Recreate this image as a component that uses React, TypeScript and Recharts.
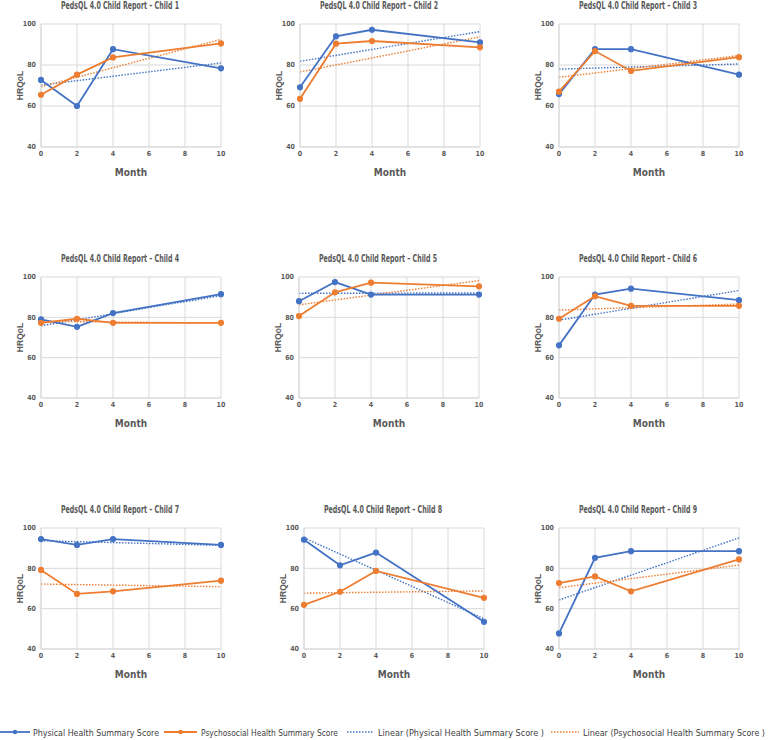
import React from 'react';
import { LineChart, Line, XAxis, YAxis, CartesianGrid } from 'recharts';

const months = [0, 2, 4, 10];
const monthTicks = [0, 2, 4, 6, 8, 10];
const hrqolTicks = [40, 60, 80, 100];
const childTitles = [
  'PedsQL 4.0 Child Report – Child 1',
  'PedsQL 4.0 Child Report – Child 2',
  'PedsQL 4.0 Child Report – Child 3',
  'PedsQL 4.0 Child Report – Child 4',
  'PedsQL 4.0 Child Report – Child 5',
  'PedsQL 4.0 Child Report – Child 6',
  'PedsQL 4.0 Child Report – Child 7',
  'PedsQL 4.0 Child Report – Child 8',
  'PedsQL 4.0 Child Report – Child 9',
];
const physicalScores = [
  [72.7, 60.0, 87.7, 78.4],
  [69.1, 94.0, 97.2, 91.0],
  [65.8, 87.7, 87.7, 75.3],
  [79.0, 75.3, 82.1, 91.5],
  [88.0, 97.5, 91.3, 91.3],
  [66.1, 91.3, 94.2, 88.5],
  [94.5, 91.6, 94.5, 91.6],
  [94.2, 81.5, 87.8, 53.5],
  [47.7, 85.2, 88.5, 88.5],
];
const psychosocialScores = [
  [65.5, 75.3, 83.7, 90.5],
  [63.5, 90.4, 91.7, 88.6],
  [67.0, 86.8, 77.1, 83.8],
  [77.3, 79.3, 77.3, 77.3],
  [80.6, 92.4, 97.2, 95.4],
  [79.3, 90.5, 85.7, 85.7],
  [79.2, 67.3, 68.6, 73.9],
  [61.9, 68.4, 78.7, 65.4],
  [72.7, 76.0, 68.6, 84.4],
];
// linear trend values at month 0 and month 10
const physicalTrend = [
  [70.2, 81.0],
  [81.8, 96.3],
  [78.0, 80.5],
  [75.8, 90.8],
  [91.9, 92.1],
  [78.6, 93.3],
  [93.7, 91.4],
  [95.1, 55.0],
  [64.3, 95.1],
];
const psychosocialTrend = [
  [69.4, 92.5],
  [76.6, 93.7],
  [74.0, 84.6],
  [78.0, 77.2],
  [86.2, 98.2],
  [83.6, 86.6],
  [72.2, 70.9],
  [67.7, 68.8],
  [70.4, 81.6],
];
const seriesNames = [
  'Physical Health Summary Score',
  'Psychosocial Health Summary Score',
  'Linear (Physical Health Summary Score )',
  'Linear (Psychosocial Health Summary Score )',
];

const BLUE = '#4472C4';
const ORANGE = '#ED7D31';
const GRID = '#d9d9d9';
const TEXT = '#595959';
const NARROW = "'Liberation Sans Narrow', 'DejaVu Sans Condensed', 'Arial Narrow', sans-serif";

const plotLefts = [41, 300, 559, 41, 299, 559, 41, 304, 559];
const plotTops = [24, 24, 24, 277, 277, 277, 528, 528, 528];
const plotHeights = [123, 123, 123, 121, 121, 121, 121, 121, 121];

function buildRows(i: number) {
  return months.map((m, k) => ({
    month: m,
    physical: physicalScores[i][k],
    psychosocial: psychosocialScores[i][k],
    physicalLinear: k === 0 ? physicalTrend[i][0] : k === months.length - 1 ? physicalTrend[i][1] : null,
    psychosocialLinear: k === 0 ? psychosocialTrend[i][0] : k === months.length - 1 ? psychosocialTrend[i][1] : null,
  }));
}

function Panel({ i }: { i: number }) {
  const left = plotLefts[i] - 41;
  const top = plotTops[i] - 24;
  const h = 24 + plotHeights[i] + 43;
  const data = buildRows(i);
  return (
    <div style={{ position: 'absolute', left, top, width: 260, height: h }}>
      <svg style={{ position: 'absolute', left: 0, top: 0, overflow: 'visible' }} width={260} height={20}>
        <text x={120} y={9} textAnchor="middle" fill={TEXT} fontFamily={NARROW} fontSize={11} fontWeight={600}
          textLength={118} lengthAdjust="spacingAndGlyphs">{childTitles[i]}</text>
      </svg>
      <div style={{ position: 'absolute', left: 0, top: 0 }}>
        <LineChart width={260} height={h} data={data} margin={{ top: 24, right: 39, bottom: 13, left: 11 }}>
          <CartesianGrid stroke={GRID} strokeWidth={1} vertical={true} horizontal={true} />
          <XAxis
            dataKey="month"
            type="number"
            domain={[0, 10]}
            ticks={monthTicks}
            height={30}
            axisLine={{ stroke: GRID }}
            tickLine={false}
            tickSize={4}
            tickMargin={0}
            tick={{ fontSize: 7, fill: TEXT, fontFamily: NARROW, fontWeight: 600 }}
            label={{
              content: (p: any) => {
                const vb = p.viewBox || {};
                return (
                  <text x={vb.x + vb.width / 2} y={vb.y + 29} textAnchor="middle" fill={TEXT}
                    fontFamily={NARROW} fontSize={10} fontWeight={600}>Month</text>
                );
              },
            }}
          />
          <YAxis
            type="number"
            domain={[40, 100]}
            ticks={hrqolTicks}
            width={30}
            axisLine={{ stroke: GRID }}
            tickLine={false}
            tickSize={5}
            tickMargin={0}
            tick={{ fontSize: 7, fill: TEXT, fontFamily: NARROW, fontWeight: 600 }}
            label={{
              content: (p: any) => {
                const vb = p.viewBox || {};
                const cx = vb.x + 9;
                const cy = vb.y + vb.height / 2;
                return (
                  <text x={cx} y={cy} transform={`rotate(-90 ${cx} ${cy})`} textAnchor="middle"
                    dominantBaseline="central" fill={TEXT} fontFamily="'Liberation Sans', Arial, sans-serif"
                    fontSize={8.5} fontWeight={700}>HRQoL</text>
                );
              },
            }}
          />
          <Line dataKey="physicalLinear" name={seriesNames[2]} stroke={BLUE} strokeWidth={1.4}
            strokeDasharray="1.5 1.5" dot={false} connectNulls isAnimationActive={false} />
          <Line dataKey="psychosocialLinear" name={seriesNames[3]} stroke={ORANGE} strokeWidth={1.4}
            strokeDasharray="1.5 1.5" dot={false} connectNulls isAnimationActive={false} />
          <Line dataKey="physical" name={seriesNames[0]} stroke={BLUE} strokeWidth={1.8}
            dot={{ r: 2.2, fill: BLUE, stroke: BLUE }} isAnimationActive={false} />
          <Line dataKey="psychosocial" name={seriesNames[1]} stroke={ORANGE} strokeWidth={1.8}
            dot={{ r: 2.2, fill: ORANGE, stroke: ORANGE }} isAnimationActive={false} />
        </LineChart>
      </div>
    </div>
  );
}

const legendLayout = [
  { x0: 0, x1: 30, tx: 33, tw: 126 },
  { x0: 164, x1: 197, tx: 201, tw: 137 },
  { x0: 347, x1: 374, tx: 378, tw: 166 },
  { x0: 551, x1: 579, tx: 583, tw: 182 },
];
const legendColors = [BLUE, ORANGE, BLUE, ORANGE];

function SharedLegend() {
  return (
    <svg style={{ position: 'absolute', left: 0, top: 722 }} width={779} height={17}>
      {seriesNames.map((name, k) => {
        const L = legendLayout[k];
        const dotted = k >= 2;
        return (
          <g key={name}>
            <line x1={L.x0} x2={L.x1} y1={10} y2={10} stroke={legendColors[k]} strokeWidth={dotted ? 1.3 : 1.8}
              strokeDasharray={dotted ? '1.5 1.5' : undefined} />
            {!dotted && <circle cx={(L.x0 + L.x1) / 2} cy={10} r={2.2} fill={legendColors[k]} />}
            <text x={L.tx} y={13.5} fill="#404040" fontFamily={NARROW} fontSize={9} fontWeight={400}
              textLength={L.tw} lengthAdjust="spacingAndGlyphs">{name}</text>
          </g>
        );
      })}
    </svg>
  );
}

export default function App() {
  return (
    <div style={{ position: 'absolute', left: 0, top: 0, width: 779, height: 740, background: '#fff' }}>
      {childTitles.map((_, i) => (
        <Panel key={i} i={i} />
      ))}
      <SharedLegend />
    </div>
  );
}
